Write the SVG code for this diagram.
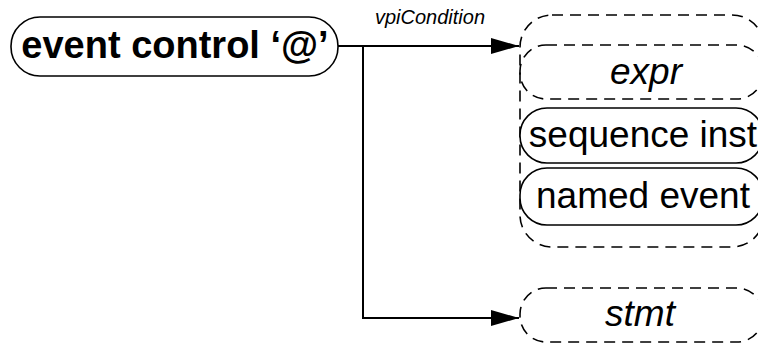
<svg xmlns="http://www.w3.org/2000/svg" width="758" height="344" viewBox="0 0 758 344">
<style>
.solid{fill:#fff;stroke:#000;stroke-width:1.6}
.dash{fill:none;stroke:#000;stroke-width:1.6;stroke-dasharray:11 7}
.t{font-family:"Liberation Sans",Arial,sans-serif;font-size:37px;fill:#000;text-anchor:middle}
.b{font-weight:bold;font-size:38px}
.i{font-style:italic}
.lbl{font-family:"Liberation Sans",Arial,sans-serif;font-size:20px;font-style:italic;fill:#000;text-anchor:middle}
.conn{fill:none;stroke:#000;stroke-width:2}
</style>
<defs>
<marker id="arr" markerUnits="userSpaceOnUse" markerWidth="30" markerHeight="18" refX="28" refY="8" orient="auto">
<path d="M0,0 L28,8 L0,16 Z" fill="#000"/>
</marker>
</defs>
<g id="connectors">
<path class="conn" d="M338,46 H519" marker-end="url(#arr)"/>
<path class="conn" d="M363,46 V318 H519" marker-end="url(#arr)"/>
<text class="lbl" x="430" y="24">vpiCondition</text>
</g>
<g id="event-control">
<rect class="solid" x="11" y="17" width="327" height="59" rx="29" ry="29"/>
<text class="t b" x="175" y="58">event control ‘@’</text>
</g>
<g id="condition-group">
<rect class="dash" x="520" y="15" width="244" height="232" rx="32" ry="32"/>
</g>
<g id="expr">
<rect class="dash" x="520" y="45" width="243" height="54" rx="26" ry="26"/>
<text class="t i" x="646" y="84">expr</text>
</g>
<g id="sequence-inst">
<rect class="solid" x="520" y="108" width="243" height="55" rx="27" ry="27"/>
<text class="t" x="643" y="147">sequence inst</text>
</g>
<g id="named-event">
<rect class="solid" x="520" y="168" width="243" height="57" rx="27" ry="27"/>
<text class="t" x="643" y="208">named event</text>
</g>
<g id="stmt">
<rect class="dash" x="520" y="288" width="243" height="54" rx="26" ry="26"/>
<text class="t i" x="640" y="326">stmt</text>
</g>
</svg>
